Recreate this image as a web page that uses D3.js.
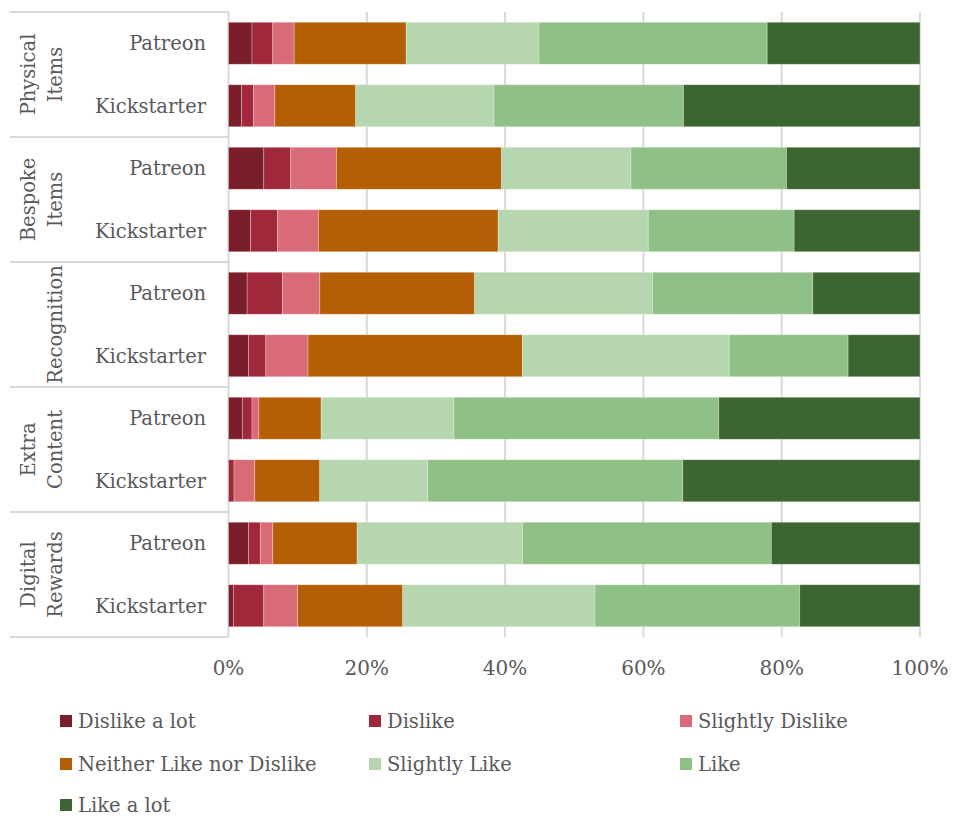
<!DOCTYPE html>
<html><head><meta charset="utf-8">
<script src="https://cdn.jsdelivr.net/npm/d3@7"></script>
<style>body{margin:0;background:#fff;} text{font-family:"DejaVu Serif",serif;fill:#595959;}</style>
</head><body>
<svg id="c" width="955" height="818"></svg>
<script>
const groups = ["Physical Items","Bespoke Items","Recognition","Extra Content","Digital Rewards"];
const groupLines = [["Physical","Items"],["Bespoke","Items"],["Recognition"],["Extra","Content"],["Digital","Rewards"]];
const platforms = ["Patreon","Kickstarter"];
const seriesNames = ["Dislike a lot","Dislike","Slightly Dislike","Neither Like nor Dislike","Slightly Like","Like","Like a lot"];
const colors = ["#7a1e2a","#a1283a","#d96b77","#b45f06","#b5d6ae","#8fc186","#3d6531"];
// values per row (percent)
const physicalPatreon = [3.4,3.0,3.1,16.2,19.2,33.0,22.1];
const physicalKick = [1.9,1.7,3.1,11.7,20.0,27.4,34.2];
const bespokePatreon = [5.1,3.9,6.6,23.9,18.7,22.5,19.3];
const bespokeKick = [3.2,3.9,5.9,26.0,21.7,21.1,18.2];
const recognitionPatreon = [2.7,5.1,5.4,22.4,25.7,23.2,15.5];
const recognitionKick = [2.9,2.5,6.1,31.0,29.9,17.2,10.4];
const extraPatreon = [2.0,1.4,1.0,9.0,19.2,38.3,29.1];
const extraKick = [0.0,0.8,3.0,9.4,15.6,36.9,34.3];
const digitalPatreon = [2.9,1.7,1.8,12.2,23.9,36.0,21.5];
const digitalKick = [0.7,4.4,4.9,15.2,27.8,29.6,17.4];
const rowValues = [physicalPatreon,physicalKick,bespokePatreon,bespokeKick,recognitionPatreon,recognitionKick,extraPatreon,extraKick,digitalPatreon,digitalKick];
const tickValues = [0,20,40,60,80,100];

(function(){
const svg = d3.select("#c");
const pLeft = 228.5, pRight = 920, pTop = 12, pBottom = 637;
const rows = [];
groups.forEach((g,gi)=>platforms.forEach((p,pi)=>rows.push({key:g+"|"+p, group:g, gi, platform:p, values:rowValues[gi*2+pi]})));

const x = d3.scaleLinear().domain([0,100]).range([pLeft,pRight]);
const y = d3.scaleBand().domain(rows.map(r=>r.key)).range([pTop,pBottom]).paddingInner(0.328).paddingOuter(0.164);
const yg = d3.scaleBand().domain(groups).range([pTop,pBottom]);

svg.append("g").selectAll("line").data(tickValues).join("line")
  .attr("x1",d=>x(d)).attr("x2",d=>x(d)).attr("y1",pTop).attr("y2",pBottom)
  .attr("stroke","#d9d9d9").attr("stroke-width",2);

const seps = groups.map(g=>yg(g)).concat([pBottom]);
svg.append("g").selectAll("line").data(seps).join("line")
  .attr("x1",10).attr("x2",pLeft).attr("y1",d=>d).attr("y2",d=>d)
  .attr("stroke","#d9d9d9").attr("stroke-width",2);

const stacked = rows.map(r=>{let acc=0; return r.values.map((v,i)=>{const s={row:r,i,x0:acc,x1:acc+v}; acc+=v; return s;});});
svg.append("g").selectAll("g").data(stacked).join("g").selectAll("rect").data(d=>d).join("rect")
  .attr("x",d=>x(d.x0)).attr("width",d=>Math.max(0,x(d.x1)-x(d.x0)))
  .attr("y",d=>y(d.row.key)).attr("height",y.bandwidth())
  .attr("fill",d=>colors[d.i]).attr("stroke","rgba(255,255,255,0.35)").attr("stroke-width",0.8);

svg.append("g").selectAll("text").data(tickValues).join("text")
  .attr("x",d=>x(d)).attr("y",675).attr("text-anchor","middle").attr("font-size",20)
  .text(d=>d+"%");

svg.append("g").selectAll("text").data(rows).join("text")
  .attr("x",206).attr("y",r=>y(r.key)+y.bandwidth()/2+7).attr("text-anchor","end").attr("font-size",19.5)
  .text(r=>r.platform);

groupLines.forEach((lines,gi)=>{
  const cy = yg(groups[gi])+yg.bandwidth()/2;
  const n = lines.length;
  lines.forEach((ln,li)=>{
    const cx = n===2 ? (li===0?28:55) : 55;
    svg.append("text").attr("transform",`translate(${cx+7},${cy}) rotate(-90)`)
      .attr("text-anchor","middle").attr("font-size",19.5).text(ln);
  });
});

const legPos = [[60,721],[369,721],[680,721],[60,764],[369,764],[680,764],[60,805]];
const lg = svg.append("g").selectAll("g").data(seriesNames).join("g")
  .attr("transform",(d,i)=>`translate(${legPos[i][0]},${legPos[i][1]})`);
lg.append("rect").attr("x",0).attr("y",-6).attr("width",12).attr("height",12).attr("fill",(d,i)=>colors[i]);
lg.append("text").attr("x",18).attr("y",7).attr("font-size",19.5).text(d=>d);
})();
</script>
</body></html>
